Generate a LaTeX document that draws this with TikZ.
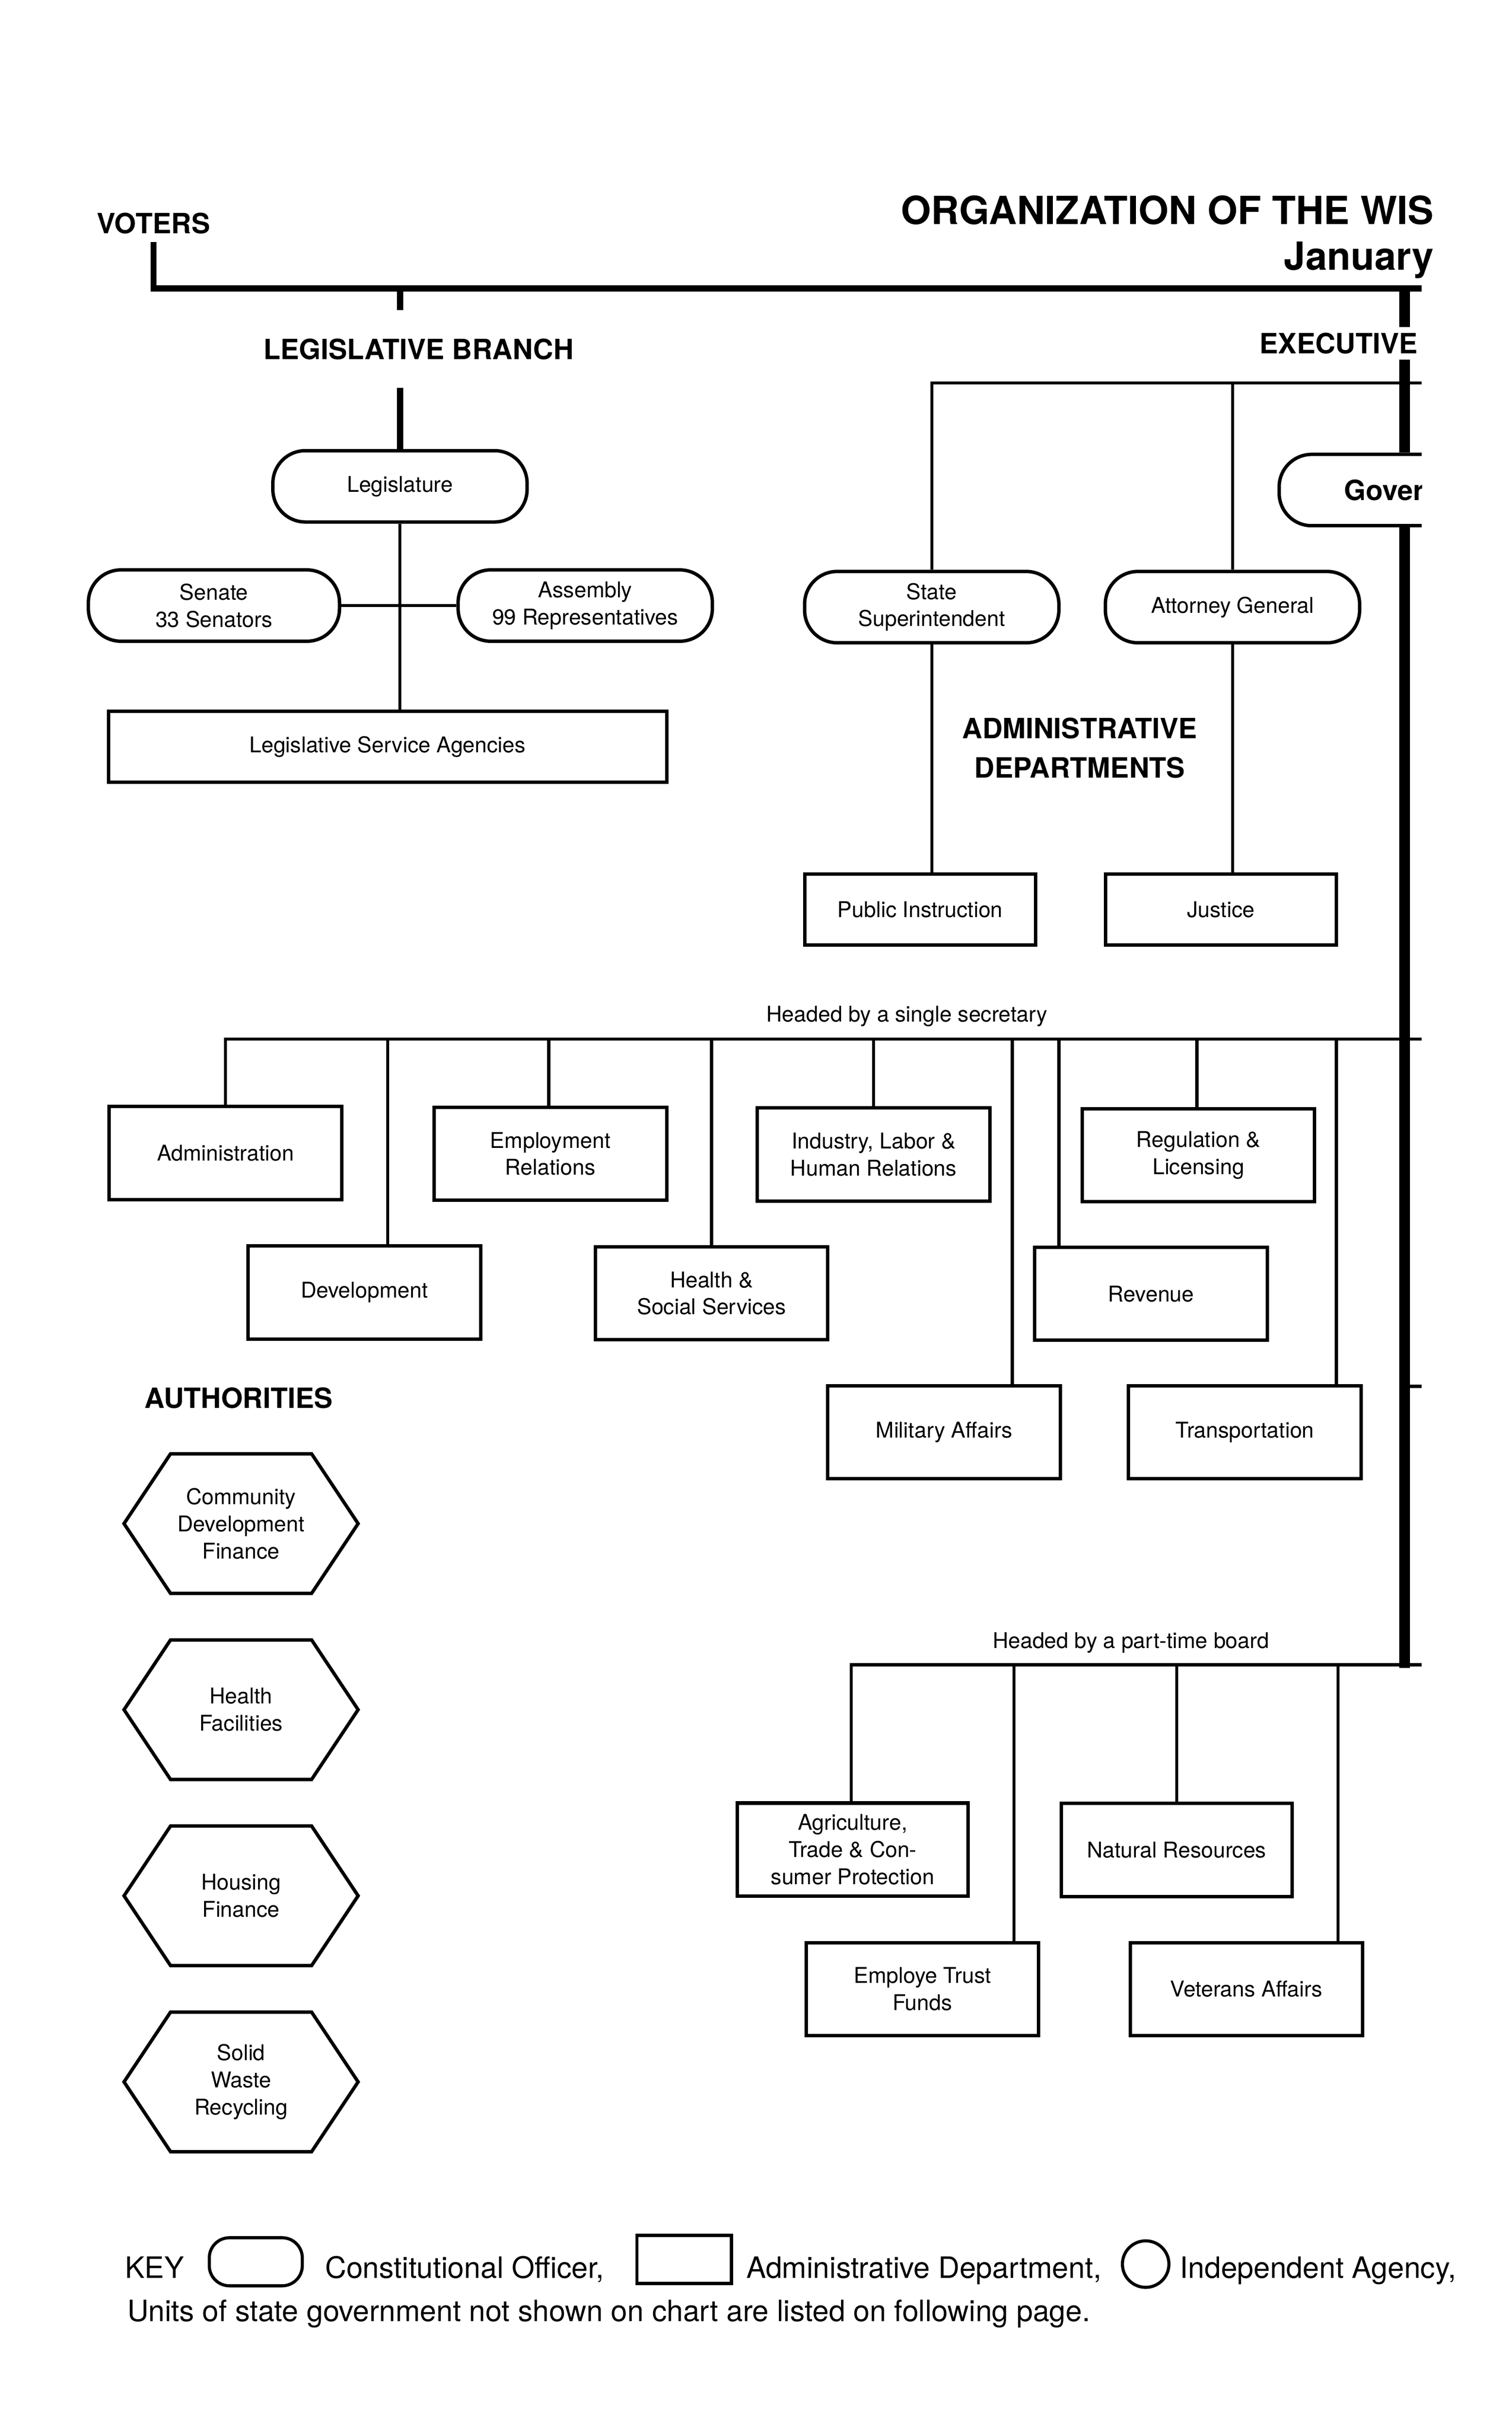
\documentclass[tikz,border=0pt]{standalone}
\usepackage{fontspec}
\setmainfont{TeX Gyre Heros}
\usetikzlibrary{shapes,calc}

\begin{document}
\begin{tikzpicture}[x=1pt,y=-1pt]
	\tikzstyle{officer}=[draw, line width=2.2pt, rounded corners=21pt, minimum width=164pt, minimum height=46pt, inner sep=0pt, align=center, fill=white, font=\fontsize{14}{17.5}\selectfont]
	\tikzstyle{dept}=[draw, line width=2.2pt, rectangle, minimum width=150pt, minimum height=60pt, inner sep=0pt, align=center, font=\fontsize{14}{17.5}\selectfont]
	\tikzstyle{authority}=[minimum width=91pt, minimum height=90pt, inner sep=0pt, outer sep=0pt, align=center, font=\fontsize{14}{17.5}\selectfont]
	\tikzstyle{head}=[inner sep=3pt, align=center, fill=white, font=\fontsize{18}{25.5}\selectfont\bfseries]
	\tikzstyle{note}=[inner sep=0pt, anchor=base, font=\fontsize{14}{17.5}\selectfont]
	\tikzstyle{keytext}=[inner sep=0pt, anchor=base west, font=\fontsize{19}{23}\selectfont]
	\tikzstyle{link}=[line width=2pt]
	\tikzstyle{spine}=[line width=4pt]
	\tikzstyle{execline}=[line width=6.8pt]

	\path[use as bounding box, fill=white] (0,0) rectangle (975,1567);

	% title and voters
	\node[inner sep=0pt, anchor=base east, font=\fontsize{25}{30}\selectfont\bfseries] (title) at (925,144.5) {ORGANIZATION OF THE WIS};
	\node[inner sep=0pt, anchor=base east, font=\fontsize{25}{30}\selectfont\bfseries] (month) at (925,174) {January};
	\node[head, anchor=base, inner sep=5pt] (voters) at (99,150.5) {VOTERS};
	\coordinate (railend) at (917,186);
	\draw[spine] (voters.south) |- (railend);

	% legislative branch
	\coordinate (legtop) at (258,186);
	\node[head, anchor=base, inner ysep=18pt] (legbranch) at (270,231.6) {LEGISLATIVE BRANCH};
	\node[officer] (legis) at (258,313.6) {Legislature};
	\draw[spine] (legtop) -- (legtop |- legbranch.north);
	\draw[spine] (legtop |- legbranch.south) -- (legis.north);
	\node[officer, minimum width=162pt] (senate) at (138,390.5) {Senate\\33 Senators};
	\node[officer] (assembly) at (377.5,390.5) {Assembly\\99 Representatives};
	\node[dept, minimum width=360pt, minimum height=46pt] (lsa) at (250,481.5) {Legislative Service Agencies};
	\draw[link] (legis.south) -- (legis.south |- lsa.north);
	\draw[link] (senate.east) -- (assembly.west);

	% executive spine
	\coordinate (exectop) at (906,186);
	\coordinate (execbot) at (906,1075.5);
	\node[head, anchor=base, inner xsep=0pt, inner ysep=3.4pt] (execlbl) at (863.5,228) {EXECUTIVE};
	\begin{scope}
		\clip (0,0) rectangle (917,1567);
		\node[officer, anchor=west, minimum width=0pt, text width=116pt, inner xsep=42pt, align=left, font=\fontsize{18}{22}\selectfont\bfseries] (gov) at (824,316) {Gover};
	\end{scope}
	\draw[execline] (exectop) -- (exectop |- execlbl.north);
	\draw[execline] (exectop |- execlbl.south) -- (exectop |- gov.north);
	\draw[execline] (exectop |- gov.south) -- (execbot);
	\coordinate (sidetick) at (917,894);
	\draw[link] (exectop |- sidetick) -- (sidetick);

	% elected officers
	\coordinate (execrail) at (917,247);
	\node[officer] (stsup) at (601,391.5) {State\\Superintendent};
	\node[officer] (attgen) at (795,391.5) {Attorney General};
	\draw[link] (stsup.north) |- (execrail);
	\draw[link] (attgen.north) -- (attgen.north |- execrail);
	\node[head, fill=none] (admdepts) at (696.5,482.3) {ADMINISTRATIVE\\DEPARTMENTS};
	\node[dept, minimum width=149pt, minimum height=46pt] (pubinst) at (593.5,586.5) {Public Instruction};
	\node[dept, minimum width=149pt, minimum height=46pt] (justice) at (787.5,586.5) {Justice};
	\draw[link] (stsup.south) -- (stsup.south |- pubinst.north);
	\draw[link] (attgen.south) -- (attgen.south |- justice.north);

	% single secretary
	\node[note] (secnote) at (585,659) {Headed by a single secretary};
	\coordinate (secrail) at (917,670);
	\node[dept] (admin) at (145.5,743.5) {Administration};
	\node[dept] (emprel) at (355,744) {Employment\\Relations};
	\node[dept] (ilhr) at (563.5,744.5) {Industry, Labor \&\\Human Relations};
	\node[dept] (regul) at (773,745) {Regulation \&\\Licensing};
	\node[dept] (devel) at (235,833.5) {Development};
	\node[dept] (hss) at (459,834) {Health \&\\Social Services};
	\node[dept] (revenue) at (742.5,834.3) {Revenue};
	\node[dept] (military) at (609,923.5) {Military Affairs};
	\node[dept] (transp) at (803,923.5) {Transportation};
	\foreach \d/\dx in {admin/0,devel/15,emprel/-1,hss/0,ilhr/0,military/44,revenue/-59.5,regul/-1,transp/59}
		\draw[link] ([xshift=\dx pt]\d.north) |- (secrail);

	% authorities
	\node[head, fill=none, inner sep=0pt, anchor=base west] (authlbl) at (93,908) {AUTHORITIES};
	\node[authority] (cdf) at (155.5,982.5) {Community\\Development\\Finance};
	\node[authority] (hfac) at (155.5,1102.5) {Health\\Facilities};
	\node[authority] (hfin) at (155.5,1222.5) {Housing\\Finance};
	\node[authority] (swr) at (155.5,1342.5) {Solid\\Waste\\Recycling};
	\foreach \a in {cdf,hfac,hfin,swr}
		\draw[line width=2.2pt] ([xshift=-30pt]\a.west) -- (\a.north west) -- (\a.north east) -- ([xshift=30pt]\a.east) -- (\a.south east) -- (\a.south west) -- cycle;

	% part-time board
	\node[note] (boardnote) at (729.5,1063) {Headed by a part-time board};
	\coordinate (boardrail) at (917,1073.5);
	\node[dept, minimum width=149pt] (agri) at (550,1192.7) {Agriculture,\\Trade \& Con-\\sumer Protection};
	\node[dept, minimum width=149pt] (natres) at (759,1193) {Natural Resources};
	\node[dept] (emptrust) at (595,1282.7) {Employe Trust\\Funds};
	\node[dept] (veterans) at (804,1282.7) {Veterans Affairs};
	\foreach \d/\dx in {agri/-1,emptrust/59,natres/0,veterans/59}
		\draw[link] ([xshift=\dx pt]\d.north) |- (boardrail);

	% key
	\node[keytext] (keylbl) at (80.5,1469) {KEY};
	\node[draw, line width=2pt, rounded corners=13pt, minimum width=60pt, minimum height=31pt] (keyofficer) at (165,1458.5) {};
	\node[keytext] (keyofficertxt) at (209.6,1469) {Constitutional Officer,};
	\node[draw, line width=2pt, minimum width=61pt, minimum height=31pt] (keydept) at (441.3,1457) {};
	\node[keytext] (keydepttxt) at (481.3,1469) {Administrative Department,};
	\node[draw, circle, line width=2pt, minimum size=30pt, inner sep=0pt] (keyagency) at (739,1460) {};
	\node[keytext] (keyagencytxt) at (761,1469) {Independent Agency,};
	\node[keytext] (keyunits) at (82,1497) {Units of state government not shown on chart are listed on following page.};
\end{tikzpicture}
\end{document}
